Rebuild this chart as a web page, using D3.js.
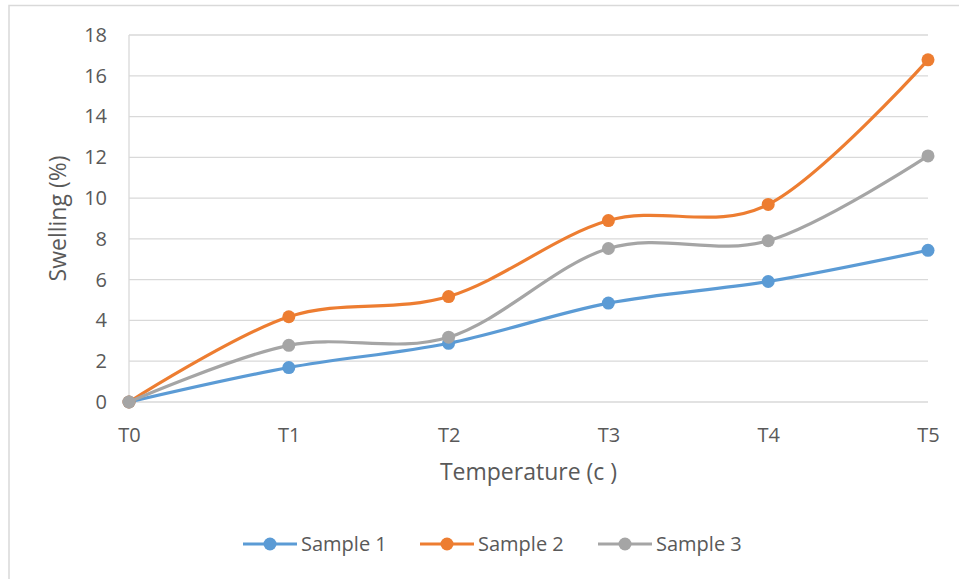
<!DOCTYPE html>
<html><head><meta charset="utf-8">
<script src="https://cdn.jsdelivr.net/npm/d3@7"></script>
<style>
html,body{margin:0;padding:0;background:#fff;}
svg{display:block;font-family:"Open Sans","Noto Sans",sans-serif;}
</style></head>
<body><svg id="c" width="959" height="579"></svg>
<script>
const categories = ["T0","T1","T2","T3","T4","T5"];
const sample1 = [0, 1.69, 2.88, 4.85, 5.91, 7.44];
const sample2 = [0, 4.18, 5.17, 8.9, 9.69, 16.78];
const sample3 = [0, 2.78, 3.18, 7.53, 7.91, 12.07];
const seriesNames = ["Sample 1","Sample 2","Sample 3"];
const seriesColors = ["#5B9BD5","#ED7D31","#A5A5A5"];
const yTicks = [0,2,4,6,8,10,12,14,16,18];

const svg = d3.select("#c");
const W = 959, H = 579;
const m = {left:129, right:W-928, top:35, bottom:H-402};
const FONT = "'Open Sans','Noto Sans',sans-serif";
const textColor = "#595959";

// chart border
svg.append("rect").attr("x",9).attr("y",5.5).attr("width",W).attr("height",H)
  .attr("fill","#fff").attr("stroke","#D9D9D9").attr("stroke-width",1.5);

const x = d3.scalePoint().domain(categories).range([m.left, W-m.right]);
const y = d3.scaleLinear().domain([0,18]).range([H-m.bottom, m.top]);

// gridlines
svg.append("g").selectAll("line").data(yTicks).join("line")
  .attr("x1",m.left).attr("x2",W-m.right)
  .attr("y1",d=>y(d)).attr("y2",d=>y(d))
  .attr("stroke","#D9D9D9").attr("stroke-width",1.3);
// vertical axis line
svg.append("line").attr("x1",m.left).attr("x2",m.left).attr("y1",y(18)).attr("y2",y(0))
  .attr("stroke","#D9D9D9").attr("stroke-width",1.3);

// y axis
const yAxis = svg.append("g").attr("transform",`translate(${m.left},0)`)
  .call(d3.axisLeft(y).tickValues(yTicks).tickSize(0).tickPadding(22));
yAxis.select(".domain").remove();
yAxis.selectAll("text").attr("fill",textColor).style("font-size","20px").style("font-family",FONT);

// x axis
const xAxis = svg.append("g").attr("transform",`translate(0,${y(0)})`)
  .call(d3.axisBottom(x).tickSize(0));
xAxis.select(".domain").remove();
xAxis.selectAll("text").attr("y",40).attr("dy","0").attr("fill",textColor)
  .style("font-size","20px").style("font-family",FONT);

// axis titles
svg.append("text").attr("x",(m.left+W-m.right)/2).attr("y",480)
  .attr("text-anchor","middle").attr("fill",textColor).style("font-size","23px")
  .text("Temperature (c )");
svg.append("text").attr("transform",`translate(66,${(y(0)+y(18))/2}) rotate(-90)`)
  .attr("text-anchor","middle").attr("fill",textColor).style("font-size","23px")
  .text("Swelling (%)");

const data = [sample1, sample2, sample3];
const line = d3.line().x((d,i)=>x(categories[i])).y(d=>y(d)).curve(d3.curveCardinal.tension(0));

data.forEach((vals,k)=>{
  const g = svg.append("g");
  g.append("path").attr("d",line(vals)).attr("fill","none")
    .attr("stroke",seriesColors[k]).attr("stroke-width",3.2).attr("stroke-linecap","round");
  g.selectAll("circle").data(vals).join("circle")
    .attr("cx",(d,i)=>x(categories[i])).attr("cy",d=>y(d)).attr("r",6.5)
    .attr("fill",seriesColors[k]);
});

// legend
const legX = [243, 420, 598];
const legY = 544;
seriesNames.forEach((name,k)=>{
  const g = svg.append("g").attr("transform",`translate(${legX[k]},${legY})`);
  g.append("line").attr("x1",0).attr("x2",54).attr("y1",0).attr("y2",0)
    .attr("stroke",seriesColors[k]).attr("stroke-width",3.2);
  g.append("circle").attr("cx",27).attr("cy",0).attr("r",6.5).attr("fill",seriesColors[k]);
  g.append("text").attr("x",58).attr("y",7).attr("fill",textColor)
    .style("font-size","20px").text(name);
});
</script></body></html>
